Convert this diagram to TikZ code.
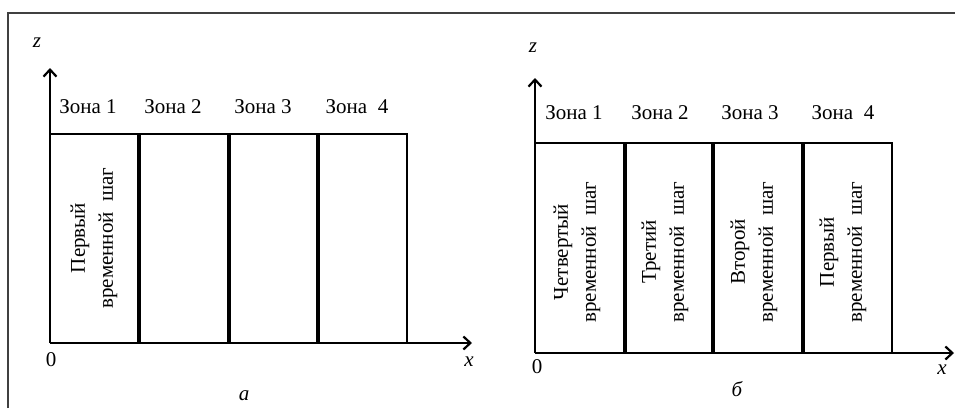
\documentclass[tikz,border=0pt]{standalone}
\usepackage{fontspec}
\setmainfont{Liberation Serif}
\usetikzlibrary{arrows.meta}
\begin{document}
\begin{tikzpicture}[x=1pt,y=-1pt,
  frame/.style={draw=black!75,line width=1.4pt},
  axis/.style={line width=2.2pt,-{Straight Barb[length=7pt,width=13pt,line width=2.2pt]}},
  outline/.style={line width=2.2pt},
  divider/.style={line width=3.2pt},
  lbl/.style={font=\fontsize{21}{24}\selectfont,inner sep=0pt},
  ilbl/.style={font=\fontsize{21}{24}\selectfont\itshape,inner sep=0pt},
  steptext/.style={font=\fontsize{21}{28}\selectfont,align=center,rotate=90,inner sep=0pt}]
\useasboundingbox (0,0) rectangle (955,408);
% frame
\draw[frame] (8,408) -- (8,13) -- (955,13);
% ---------- panel a ----------
\coordinate (aO) at (50,343);
\coordinate (aZ) at (50,68);
\coordinate (aX) at (472,343);
\coordinate (aT0) at (50,134);
\coordinate (aT4) at (407,134);
\coordinate (aB4) at (407,343);
\draw[outline] (aT0) -- (aT4) -- (aB4);
\foreach \xx in {139,229,318}{\draw[divider] (\xx,134) -- (\xx,343);}
\draw[axis] (aO) -- (aZ);
\draw[axis] (aO) -- (aX);
\node[ilbl] (az) at (37,43) {z};
\node[lbl] (a0) at (51,360) {0};
\node[ilbl] (ax) at (469,362) {x};
\node[ilbl] (acap) at (244,396) {a};
\node[lbl] (az1) at (88,107) {Зона 1};
\node[lbl] (az2) at (173,107) {Зона 2};
\node[lbl] (az3) at (263,107) {Зона 3};
\node[lbl] (az4) at (357,107) {Зона\ \ 4};
\node[steptext] (as1) at (94,238) {Первый\\временной\ \ шаг};
% ---------- panel b ----------
\coordinate (bO) at (535,353);
\coordinate (bZ) at (535,78);
\coordinate (bX) at (954,353);
\coordinate (bT0) at (535,143);
\coordinate (bT4) at (892,143);
\coordinate (bB4) at (892,353);
\draw[outline] (bT0) -- (bT4) -- (bB4);
\foreach \xx in {625,713,803}{\draw[divider] (\xx,143) -- (\xx,353);}
\draw[axis] (bO) -- (bZ);
\draw[axis] (bO) -- (bX);
\node[ilbl] (bz) at (533,48) {z};
\node[lbl] (b0) at (537,367) {0};
\node[ilbl] (bx) at (942,370) {x};
\node[ilbl] (bcap) at (737,389) {б};
\node[lbl] (bz1) at (574,113) {Зона 1};
\node[lbl] (bz2) at (660,113) {Зона 2};
\node[lbl] (bz3) at (750,113) {Зона 3};
\node[lbl] (bz4) at (843,113) {Зона\ \ 4};
\node[steptext] (bs1) at (577,252) {Четвертый\\временной\ \ шаг};
\node[steptext] (bs2) at (665,252) {Третий\\временной\ \ шаг};
\node[steptext] (bs3) at (754,252) {Второй\\временной\ \ шаг};
\node[steptext] (bs4) at (843,252) {Первый\\временной\ \ шаг};
\end{tikzpicture}
\end{document}
